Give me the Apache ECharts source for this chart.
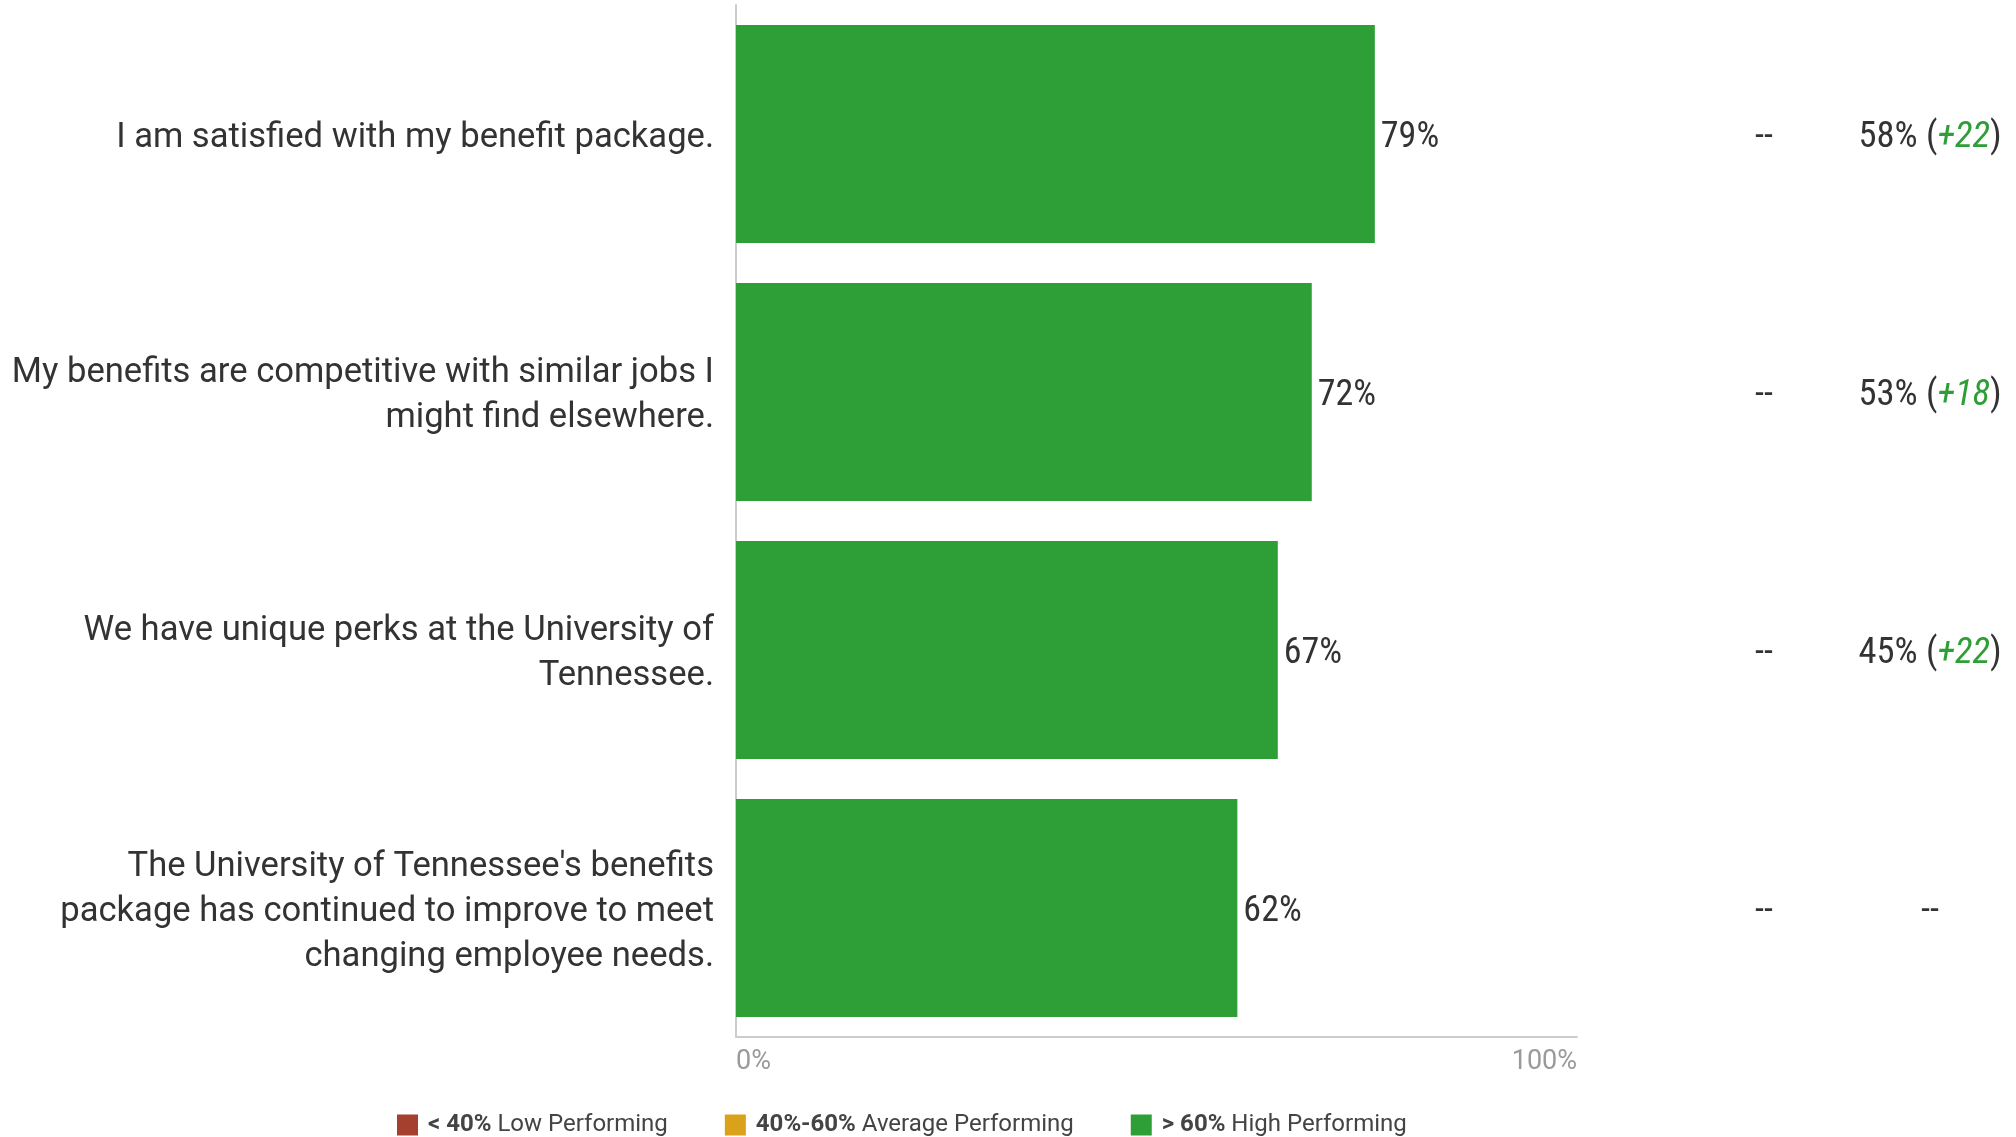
<!DOCTYPE html>
<html>
<head>
<meta charset="utf-8">
<script src="https://cdn.jsdelivr.net/npm/echarts@6/dist/echarts.min.js"></script>
<style>
  html, body { margin: 0; padding: 0; background: #fff; }
  #chart { width: 2016px; height: 1137px; }
</style>
</head>
<body>
<div id="chart"></div>
<script>
// ---- data ----
const categories = [
  "I am satisfied with my benefit package.",
  "My benefits are competitive with similar jobs I\nmight find elsewhere.",
  "We have unique perks at the University of\nTennessee.",
  "The University of Tennessee's benefits\npackage has continued to improve to meet\nchanging employee needs."
];
// bar lengths
const values = [79, 71.2, 67, 62];
// value labels as printed in the picture
const valueLabels = ["79%", "72%", "67%", "62%"];
const compareCol1 = ["--", "--", "--", "--"];
const compareCol2Pct = [58, 53, 45, null];
const compareCol2Diff = ["+22", "+18", "+22", null];
const xTickLabels = ["0%", "100%"];
const legendNames = ["< 40% Low Performing", "40%-60% Average Performing", "> 60% High Performing"];
const legendBold = ["< 40%", "40%-60%", "> 60%"];

const condensed = "'Roboto Condensed', 'Liberation Sans Narrow', 'DejaVu Sans Condensed', Roboto, sans-serif";
const textColor = '#333333';

const lowData = values.map(v => v < 40 ? v : '-');
const avgData = values.map(v => (v >= 40 && v <= 60) ? v : '-');
const highData = values.map(v => v > 60 ? v : '-');

const barLabel = {
  show: true,
  position: 'right',
  distance: 6,
  offset: [0, 4],
  formatter: p => valueLabels[p.dataIndex],
  fontFamily: condensed,
  fontSize: 36,
  color: textColor
};

const chart = echarts.init(document.getElementById('chart'));
chart.setOption({
  animation: false,
  textStyle: { fontFamily: 'Roboto, sans-serif' },
  grid: { left: 736, right: 439, top: 5, bottom: 100, containLabel: false },
  xAxis: {
    type: 'value',
    min: 0,
    max: 104,
    interval: 104,
    axisLine: { show: true, lineStyle: { color: '#cccccc', width: 2 } },
    axisTick: { show: false },
    splitLine: { show: false },
    axisLabel: {
      margin: 12,
      fontSize: 27,
      color: '#9a9a9a',
      alignMinLabel: 'left',
      alignMaxLabel: 'right',
      formatter: v => v === 0 ? xTickLabels[0] : xTickLabels[1]
    }
  },
  yAxis: [
    {
      type: 'category',
      data: categories,
      inverse: true,
      axisLine: { show: true, lineStyle: { color: '#cccccc', width: 2 } },
      axisTick: { show: false },
      axisLabel: {
        margin: 22,
        align: 'right',
        padding: [8, 0, 0, 0],
        formatter: v => v.split('\n').map(l => '{a|' + l + '}').join('\n'),
        rich: { a: { fontFamily: 'Roboto', fontSize: 34.6, lineHeight: 45, color: textColor } }
      }
    },
    {
      type: 'category',
      data: compareCol1,
      inverse: true,
      position: 'right',
      axisLine: { show: false },
      axisTick: { show: false },
      axisLabel: {
        margin: 187,
        align: 'center',
        padding: [8, 0, 0, 0],
        formatter: (v, i) => '{t|' + compareCol1[i] + '}',
        rich: { t: { fontFamily: condensed, fontSize: 36, color: textColor } }
      }
    },
    {
      type: 'category',
      data: categories.map((c, i) => 'c' + i),
      inverse: true,
      position: 'right',
      axisLine: { show: false },
      axisTick: { show: false },
      axisLabel: {
        margin: 353,
        align: 'center',
        padding: [8, 0, 0, 0],
        formatter: (v, i) => {
          if (compareCol2Pct[i] == null) return '{t|--}';
          return '{t|' + compareCol2Pct[i] + '% (}{g|' + compareCol2Diff[i] + '}{t|)}';
        },
        rich: {
          t: { fontFamily: condensed, fontSize: 36.5, color: textColor },
          g: { fontFamily: condensed, fontSize: 36.5, color: '#2e9e37', fontStyle: 'italic' }
        }
      }
    }
  ],
  legend: {
    left: 397,
    top: 1113,
    padding: 0,
    itemWidth: 21,
    itemHeight: 21,
    itemGap: 57,
    icon: 'rect',
    data: legendNames,
    formatter: name => {
      const i = legendNames.indexOf(name);
      return '{b|' + legendBold[i] + '}{n|' + name.slice(legendBold[i].length) + '}';
    },
    textStyle: {
      padding: [0, 0, 0, 5],
      rich: {
        b: { fontFamily: 'Roboto', fontWeight: 'bold', fontSize: 24, color: '#444444' },
        n: { fontFamily: 'Roboto', fontSize: 24, color: '#444444' }
      }
    }
  },
  series: [
    { name: legendNames[0], type: 'bar', stack: 's', data: lowData, barCategoryGap: '15.5%', itemStyle: { color: '#a5402e' }, label: barLabel },
    { name: legendNames[1], type: 'bar', stack: 's', data: avgData, barCategoryGap: '15.5%', itemStyle: { color: '#daa11a' }, label: barLabel },
    { name: legendNames[2], type: 'bar', stack: 's', data: highData, barCategoryGap: '15.5%', itemStyle: { color: '#2e9e37' }, label: barLabel }
  ]
});
</script>
</body>
</html>
